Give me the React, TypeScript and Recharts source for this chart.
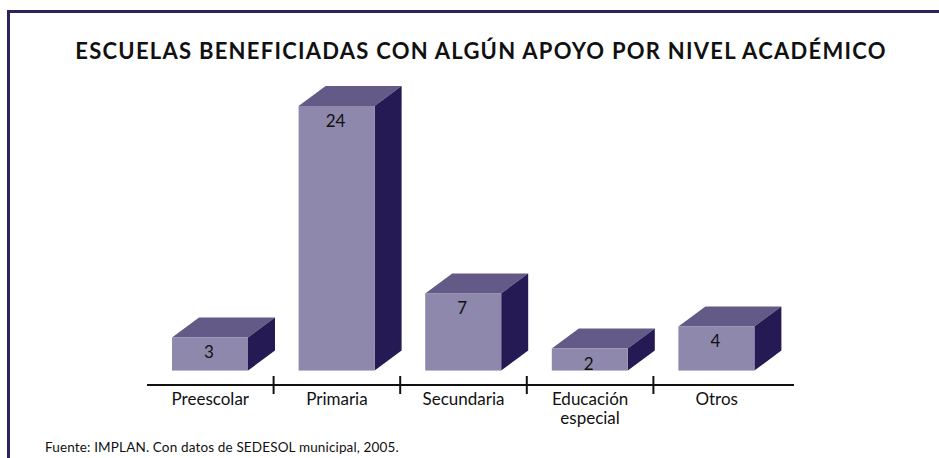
import React from 'react';
import { BarChart, Bar, XAxis, YAxis } from 'recharts';

const categories = ['Preescolar', 'Primaria', 'Secundaria', 'Educación\nespecial', 'Otros'];
const schools = [3, 24, 7, 2, 4];

const data = categories.map((name, i) => ({ name, value: schools[i] }));

const FONT = 'Lato, "Open Sans", sans-serif';
const DEPTH_X = 27;
const DEPTH_Y = 20;
const PLOT_LEFT = 147;
const PLOT_RIGHT = 794;
const PAD_RIGHT = 14;
const BAND = (PLOT_RIGHT - PAD_RIGHT - PLOT_LEFT) / categories.length;

const Box3D = (props: any) => {
  const { x, y, width, height, value } = props;
  if (width == null || height == null) return null;
  const r = x + width;
  const b = y + height;
  const v = Array.isArray(value) ? value[1] : value;
  return (
    <g>
      <polygon
        points={`${x},${y} ${x + DEPTH_X},${y - DEPTH_Y} ${r + DEPTH_X},${y - DEPTH_Y} ${r},${y}`}
        fill="#635a88"
      />
      <polygon
        points={`${r},${y} ${r + DEPTH_X},${y - DEPTH_Y} ${r + DEPTH_X},${b - DEPTH_Y} ${r},${b}`}
        fill="#261a54"
      />
      <rect x={x} y={y} width={width} height={height} fill="#8e88ac" />
      <text
        x={x + width / 2 - 1}
        y={y + 21}
        textAnchor="middle"
        fontFamily={FONT}
        fontSize={17}
        fill="#111"
      >
        {v}
      </text>
    </g>
  );
};

const CategoryTick = (props: any) => {
  const { x, y, payload, index } = props;
  const lines = String(payload.value).split('\n');
  return (
    <g>
      {index < categories.length - 1 && (
        <line x1={x + BAND / 2} x2={x + BAND / 2} y1={y - 9} y2={y + 9} stroke="#111" strokeWidth={2} />
      )}
      {lines.map((l, i) => (
        <text key={i} x={x} y={y + 20 + i * 19} textAnchor="middle" fontFamily={FONT} fontSize={17} fill="#111">
          {l}
        </text>
      ))}
    </g>
  );
};

export default function App() {
  return (
    <div style={{ position: 'absolute', left: 0, top: 0, width: 939, height: 458, background: '#fff', overflow: 'hidden' }}>
      <div
        style={{
          position: 'absolute',
          left: 7,
          top: 10,
          width: 939,
          height: 460,
          borderTop: '3px solid #2c2260',
          borderLeft: '3px solid #2c2260',
        }}
      />
      <div
        style={{
          position: 'absolute',
          left: 0,
          top: 37,
          width: 962,
          textAlign: 'center',
          fontFamily: FONT,
          fontWeight: 700,
          fontSize: 22,
          letterSpacing: 1.25,
          color: '#111',
        }}
      >
        ESCUELAS BENEFICIADAS CON ALGÚN APOYO POR NIVEL ACADÉMICO
      </div>
      <div
        style={{
          position: 'absolute',
          left: 45,
          top: 439,
          fontFamily: FONT,
          fontSize: 13.5,
          letterSpacing: 0.15,
          color: '#111',
        }}
      >
        Fuente: IMPLAN. Con datos de SEDESOL municipal, 2005.
      </div>
      <div style={{ position: 'absolute', left: 0, top: 0 }}>
        <BarChart
          width={939}
          height={458}
          data={data}
          margin={{ top: 106, right: 939 - PLOT_RIGHT, bottom: 33, left: PLOT_LEFT }}
          baseValue={-0.4}
          style={{ overflow: 'visible' }}
        >
          <YAxis hide domain={[-1.31, 24]} />
          <XAxis
            dataKey="name"
            height={40}
            padding={{ left: 0, right: PAD_RIGHT }}
            axisLine={{ stroke: '#111', strokeWidth: 2 }}
            tickLine={false}
            tickSize={0}
            tickMargin={0}
            interval={0}
            tick={<CategoryTick />}
          />
          <Bar dataKey="value" barSize={76} shape={<Box3D />} isAnimationActive={false} />
        </BarChart>
      </div>
    </div>
  );
}
